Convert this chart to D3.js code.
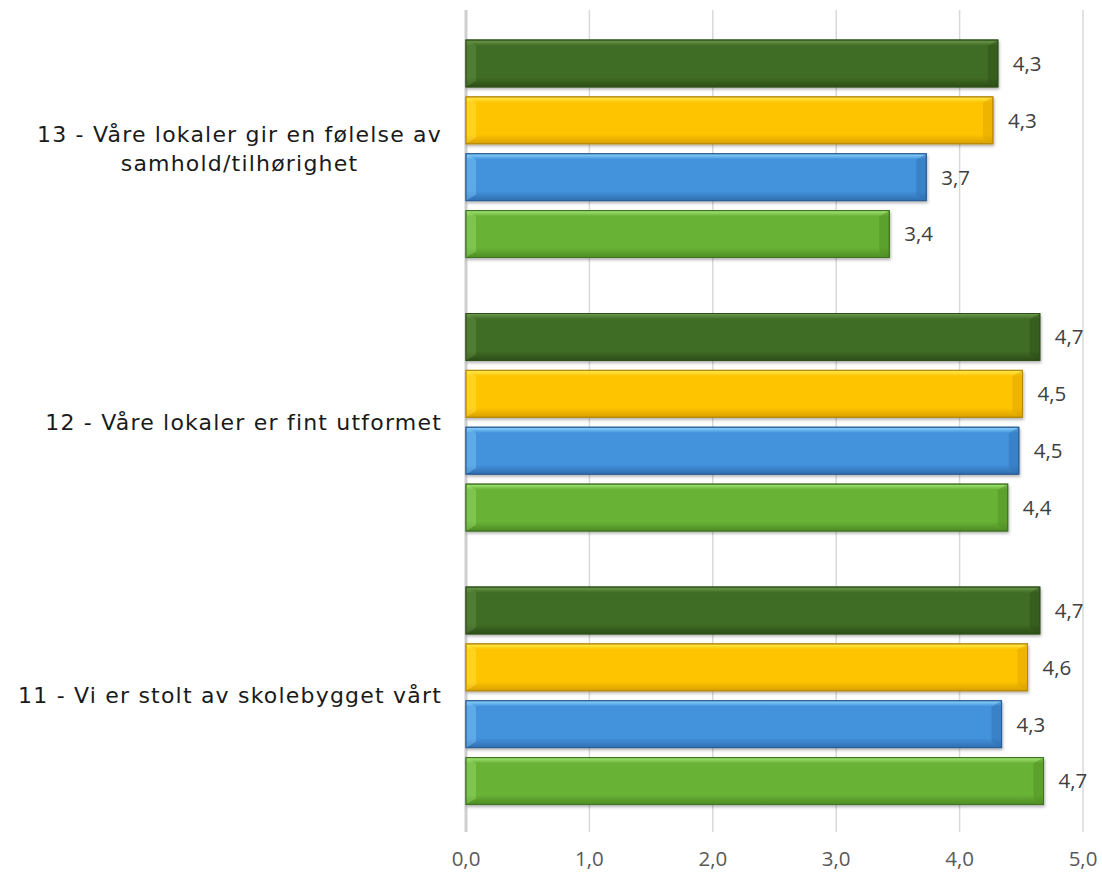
<!DOCTYPE html>
<html><head><meta charset="utf-8">
<script src="https://cdn.jsdelivr.net/npm/d3@7"></script>
<style>body{margin:0;background:#fff}svg{display:block}</style>
</head><body>
<svg id="c" width="1102" height="874"></svg>
<script>
const categories = ["13 - Våre lokaler gir en følelse av|samhold/tilhørighet", "12 - Våre lokaler er fint utformet", "11 - Vi er stolt av skolebygget vårt"];
const seriesNames = ["S1", "S2", "S3", "S4"];
const s1 = [4.31, 4.65, 4.65];
const s2 = [4.27, 4.51, 4.55];
const s3 = [3.73, 4.48, 4.34];
const s4 = [3.43, 4.39, 4.68];
const labels1 = ["4,3", "4,7", "4,7"];
const labels2 = ["4,3", "4,5", "4,6"];
const labels3 = ["3,7", "4,5", "4,3"];
const labels4 = ["3,4", "4,4", "4,7"];
const ticks = [0, 1, 2, 3, 4, 5];
const tickLabels = ["0,0", "1,0", "2,0", "3,0", "4,0", "5,0"];

const seriesVals = [s1, s2, s3, s4];
const seriesLabels = [labels1, labels2, labels3, labels4];
const palettes = [
  {top:"#6e9a4e", main:"#416d25", bot:"#2c4c17", edge:"#2e5019"},
  {top:"#ffee55", main:"#ffc400", bot:"#d9a100", edge:"#b8890a"},
  {top:"#8fd8ff", main:"#4392dc", bot:"#2f6fb0", edge:"#2c5f95"},
  {top:"#a6e87a", main:"#68b236", bot:"#4e8c24", edge:"#3f7420"}
];

const svg = d3.select("#c");
const x = d3.scaleLinear().domain([0, 5]).range([466, 1083]);
const y0 = d3.scaleBand().domain(d3.range(categories.length)).range([12, 832.5]).padding(0);
const y1 = d3.scaleBand().domain(d3.range(4)).range([28, y0.bandwidth() - 28]).paddingInner(0.175).paddingOuter(0);

const defs = svg.append("defs");
palettes.forEach((p, i) => {
  const g = defs.append("linearGradient").attr("id", "g" + i).attr("x1", 0).attr("y1", 0).attr("x2", 0).attr("y2", 1);
  g.append("stop").attr("offset", "0").attr("stop-color", p.top);
  g.append("stop").attr("offset", "0.12").attr("stop-color", p.main);
  g.append("stop").attr("offset", "0.8").attr("stop-color", p.main);
  g.append("stop").attr("offset", "1").attr("stop-color", p.bot);
});
const f = defs.append("filter").attr("id", "sh").attr("x", "-5%").attr("y", "-20%").attr("width", "110%").attr("height", "150%");
f.append("feDropShadow").attr("dx", 1).attr("dy", 2).attr("stdDeviation", 1.5).attr("flood-color", "#000").attr("flood-opacity", 0.3);

// gridlines
svg.append("g").selectAll("line").data(ticks).join("line")
  .attr("x1", d => x(d)).attr("x2", d => x(d))
  .attr("y1", 10).attr("y2", 832)
  .attr("stroke", d => d === 0 ? "#cfcfcf" : "#d9d9d9")
  .attr("stroke-width", d => d === 0 ? 3 : 1.5);

// tick labels
svg.append("g").selectAll("text").data(ticks).join("text")
  .attr("x", d => x(d)).attr("y", 866)
  .attr("text-anchor", "middle")
  .attr("font-family", "'Open Sans', sans-serif").attr("font-size", 20.5)
  .attr("fill", "#595959")
  .text((d, i) => tickLabels[i]);

// bars
const bev = 10;
categories.forEach((c, ci) => {
  const gy = y0(ci);
  seriesVals.forEach((vals, si) => {
    const p = palettes[si];
    const top = gy + y1(si), h = y1.bandwidth();
    const x0 = x(0), xe = x(vals[ci]);
    const g = svg.append("g");
    g.append("rect").attr("x", x0).attr("y", top).attr("width", xe - x0).attr("height", h)
      .attr("fill", "url(#g" + si + ")").attr("stroke", p.edge).attr("stroke-width", 1).attr("filter", "url(#sh)");
    g.append("path").attr("d", `M${x0},${top}L${x0+bev},${top+bev*0.6}L${x0+bev},${top+h-bev*0.6}L${x0},${top+h}Z`)
      .attr("fill", p.top).attr("opacity", 0.35);
    g.append("path").attr("d", `M${xe},${top}L${xe-bev},${top+bev*0.6}L${xe-bev},${top+h-bev*0.6}L${xe},${top+h}Z`)
      .attr("fill", p.bot).attr("opacity", 0.45);
    g.append("rect").attr("x", x0).attr("y", top).attr("width", xe - x0).attr("height", h)
      .attr("fill", "none").attr("stroke", p.edge).attr("stroke-width", 1);
    svg.append("text").attr("x", xe + 15).attr("y", top + h / 2).attr("dy", "0.36em")
      .attr("font-family", "'Open Sans', sans-serif").attr("font-size", 20.5).attr("fill", "#404040")
      .text(seriesLabels[si][ci]);
  });
  // category label
  const lines = c.split("|");
  const cy = gy + y0.bandwidth() / 2;
  const lh = 29;
  const t = svg.append("text").attr("font-family", "'DejaVu Sans', Verdana, sans-serif")
    .attr("font-size", 22).attr("letter-spacing", 1.2).attr("fill", "#1a1a1a").attr("text-anchor", "middle");
  lines.forEach((ln, li) => {
    t.append("tspan").attr("x", 0).attr("y", cy + (li - (lines.length - 1) / 2) * lh).attr("dy", "0.35em").text(ln);
  });
  const w = t.node().getBBox().width;
  t.selectAll("tspan").attr("x", 442 - w / 2);
});
</script>
</body></html>
